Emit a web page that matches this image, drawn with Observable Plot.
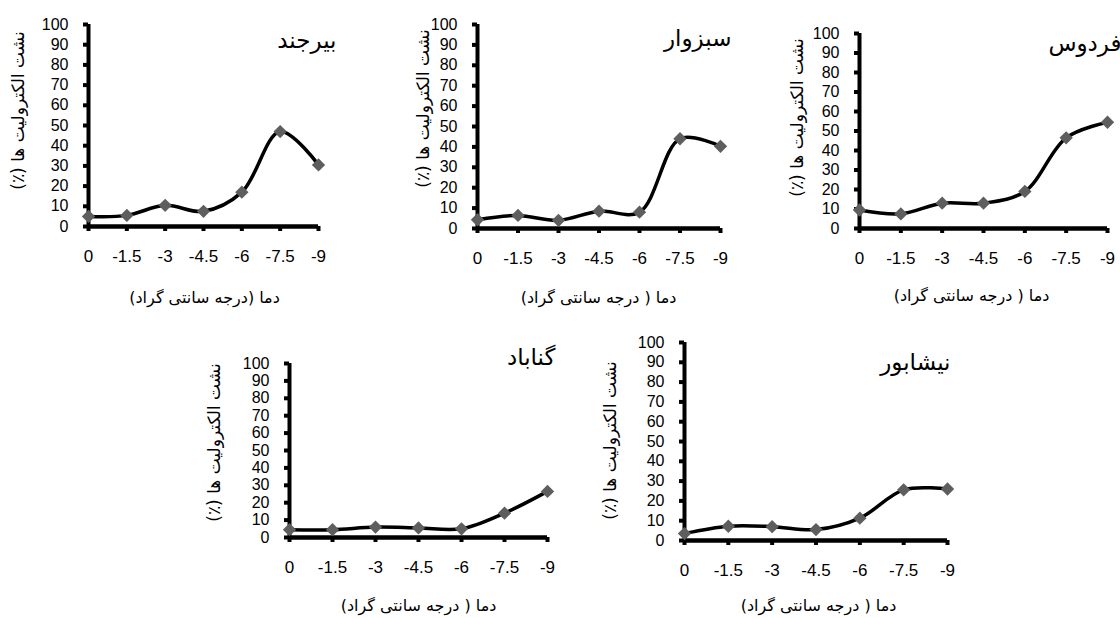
<!DOCTYPE html>
<html>
<head>
<meta charset="utf-8">
<script src="https://cdn.jsdelivr.net/npm/d3@7"></script>
<script src="https://cdn.jsdelivr.net/npm/@observablehq/plot@0.6"></script>
<style>
  html, body { margin: 0; padding: 0; background: #fff; }
  #wrap { position: relative; width: 1120px; height: 618px; overflow: hidden; }
  #wrap svg { position: absolute; left: 0; top: 0; }
</style>
</head>
<body>
<div id="wrap"></div>
<script>
// ---- data ----
const temps = [0, -1.5, -3, -4.5, -6, -7.5, -9];
const tempLabels = ["0", "-1.5", "-3", "-4.5", "-6", "-7.5", "-9"];
const yTicks = [0, 10, 20, 30, 40, 50, 60, 70, 80, 90, 100];
const birjand   = [5, 5.5, 10.5, 7.5, 17, 47, 30.5];
const sabzevar  = [4.3, 6.4, 4, 8.5, 8, 44, 40.3];
const ferdows   = [9.5, 7.5, 13, 13, 19, 46.5, 54.5];
const gonabad   = [4.5, 4.5, 6, 5.5, 5, 14, 26.5];
const neyshabur = [3.5, 7.2, 7, 5.5, 11.3, 25.6, 26];
const yLabel = "نشت الکترولیت ها (٪)";
const xLabelA = "دما (درجه سانتی گراد)";
const xLabelB = "دما ( درجه سانتی گراد)";

// ---- layout (page pixels) ----
const panels = [
  {name: "بیرجند", vals: birjand, xlab: xLabelA, x0: 88, x9: 318, y100: 24, y0: 226, tR: 336, tY: 40, lX: 18, lY: 110, xtX: 204, xtY: 297},
  {name: "سبزوار", vals: sabzevar, xlab: xLabelB, x0: 477, x9: 720, y100: 24, y0: 228, tR: 731, tY: 38, lX: 423, lY: 108, xtX: 598, xtY: 297},
  {name: "فردوس", vals: ferdows, xlab: xLabelB, x0: 859, x9: 1107, y100: 33, y0: 228, tR: 1121, tY: 43, lX: 797, lY: 117, xtX: 971, xtY: 295},
  {name: "گناباد", vals: gonabad, xlab: xLabelB, x0: 289, x9: 547, y100: 363, y0: 537, tR: 555, tY: 357, lX: 214, lY: 442, xtX: 418, xtY: 605},
  {name: "نیشابور", vals: neyshabur, xlab: xLabelB, x0: 684, x9: 947, y100: 342, y0: 540, tR: 950, tY: 362, lX: 610, lY: 440, xtX: 818, xtY: 605}
];

const rtl = s => "\u202B" + s + "\u202C";
const W = 1120, H = 618;
const fa = "DejaVu Sans, Noto Sans, sans-serif";

for (const p of panels) {
  const data = temps.map((t, i) => ({t, v: p.vals[i]}));
  const midX = (p.x0 + p.x9) / 2, midY = (p.y100 + p.y0) / 2;
  const chart = Plot.plot({
    width: W, height: H,
    marginLeft: p.x0, marginRight: W - p.x9, marginTop: p.y100, marginBottom: H - p.y0,
    style: {fontFamily: "Liberation Sans, Arial, sans-serif", fontSize: "16px", color: "#000", background: "transparent", overflow: "visible"},
    x: {type: "linear", domain: [0, -9]},
    y: {domain: [0, 100]},
    marks: [
      Plot.axisY({ticks: yTicks, tickSize: 5, strokeWidth: 4, tickPadding: 15, fontSize: 16, label: null}),
      Plot.axisX({ticks: temps, tickFormat: d => tempLabels[temps.indexOf(d)], tickSize: 5, strokeWidth: 4, tickPadding: 18, fontSize: 17, label: null}),
      Plot.ruleX([0], {stroke: "#000", strokeWidth: 4}),
      Plot.ruleY([0], {stroke: "#000", strokeWidth: 4.5}),
      Plot.line(data, {x: "t", y: "v", curve: "catmull-rom", stroke: "#000", strokeWidth: 3.5}),
      Plot.dot(data, {x: "t", y: "v", symbol: "diamond2", r: 6, fill: "#5e5e5e", stroke: "none"}),
      Plot.text([p.name], {text: d => rtl(d), frameAnchor: "top-right", dx: p.tR - p.x9, dy: p.tY - p.y100, textAnchor: "end", lineAnchor: "middle", fontSize: 23, fontFamily: fa}),
      Plot.text([yLabel], {text: d => rtl(d), frameAnchor: "left", rotate: -90, dx: p.lX - p.x0, dy: p.lY - midY, textAnchor: "middle", lineAnchor: "middle", fontSize: 17, fontFamily: fa}),
      Plot.text([p.xlab], {text: d => rtl(d), frameAnchor: "bottom", dx: p.xtX - midX, dy: p.xtY - p.y0, textAnchor: "middle", lineAnchor: "middle", fontSize: 16, fontFamily: fa})
    ]
  });
  document.getElementById("wrap").appendChild(chart);
}
</script>
</body>
</html>
